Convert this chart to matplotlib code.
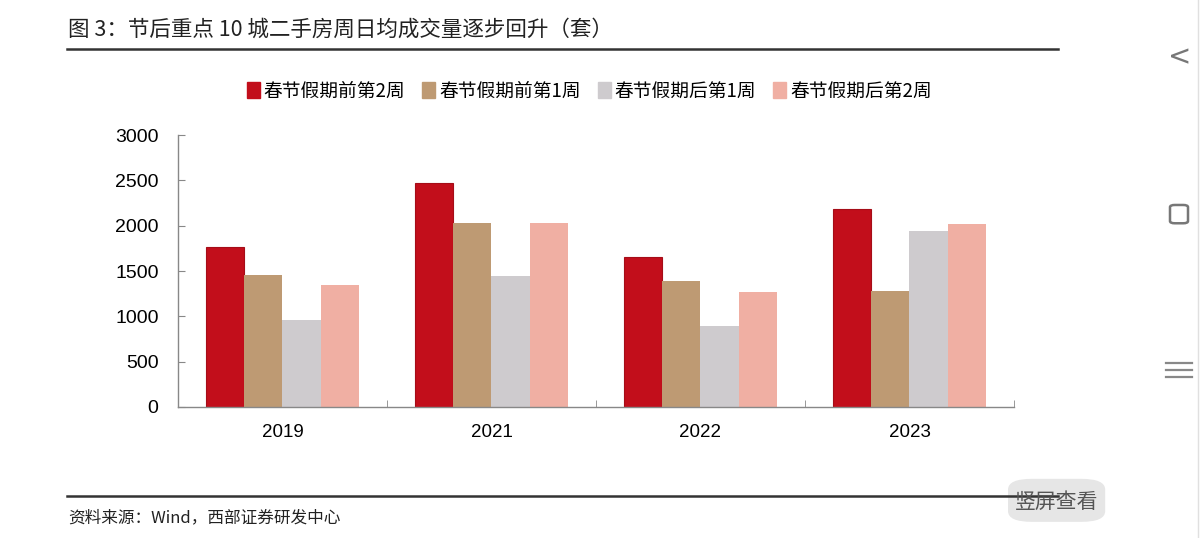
import matplotlib.pyplot as plt
import numpy as np
from matplotlib.patches import FancyBboxPatch, Rectangle
from matplotlib.lines import Line2D

plt.rcParams['font.family'] = ['Liberation Sans', 'Noto Sans CJK SC', 'DejaVu Sans']

# data
years = ['2019', '2021', '2022', '2023']
series_names = ['春节假期前第2周', '春节假期前第1周', '春节假期后第1周', '春节假期后第2周']
pre_2w = [1765, 2470, 1655, 2180]
pre_1w = [1460, 2030, 1385, 1280]
post_1w = [955, 1440, 895, 1945]
post_2w = [1345, 2030, 1270, 2020]
colors = ['#C20E1B', '#BE9A73', '#CECBCE', '#F0AFA3']

cjk = ['Noto Sans CJK SC', 'DejaVu Sans']


def main():
    fig = plt.figure(figsize=(12, 5.38), dpi=100)
    ax = fig.add_axes([0.1483, 0.2435, 0.6967, 0.5055])

    x = np.arange(len(years))
    w = 0.184
    all_vals = [pre_2w, pre_1w, post_1w, post_2w]
    for i, vals in enumerate(all_vals):
        ax.bar(x + (i - 1.5) * w, vals, width=w, color=colors[i],
               edgecolor='#A50D18' if i == 0 else 'none', linewidth=0.8,
               label=series_names[i], zorder=2)

    ax.set_xlim(-0.5, len(years) - 0.5)
    ax.set_ylim(0, 3000)
    ax.set_yticks(np.arange(0, 3001, 500))
    ax.set_xticks(x)
    ax.set_xticklabels(years)
    ax.set_xticks(np.arange(-0.5, len(years), 1), minor=True)
    ax.tick_params(axis='x', which='major', length=0, labelsize=13.5, pad=12)
    ax.tick_params(axis='x', which='minor', direction='in', length=5, color='#888888')
    ax.tick_params(axis='y', direction='in', length=5, color='#888888', labelsize=14, pad=14)
    for s in ['top', 'right']:
        ax.spines[s].set_visible(False)
    for s in ['left', 'bottom']:
        ax.spines[s].set_color('#888888')
        ax.spines[s].set_linewidth(1.0)

    handles = [Rectangle((0, 0), 1, 1, color=c) for c in colors]
    fig.legend(handles, series_names, loc='center', bbox_to_anchor=(0.491, 0.831),
               ncol=4, frameon=False, handlelength=0.7, handleheight=0.9,
               handletextpad=0.2, columnspacing=0.9,
               prop={'family': cjk, 'size': 13.5})

    # title and rules
    fig.text(0.057, 0.945, '图 3：节后重点 10 城二手房周日均成交量逐步回升（套）',
             family=cjk, fontsize=15.5, color='#222222', va='center')
    fig.add_artist(Line2D([0.056, 0.882], [0.909, 0.909], color='#333333', lw=1.8))
    fig.add_artist(Line2D([0.056, 0.882], [0.078, 0.078], color='#333333', lw=1.8))
    fig.text(0.057, 0.037, '资料来源：Wind，西部证券研发中心',
             family=cjk, fontsize=12, color='#222222', va='center')

    # screenshot UI overlay
    btn = FancyBboxPatch((0.84, 0.03), 0.081, 0.08, boxstyle='round,pad=0,rounding_size=0.02',
                         transform=fig.transFigure, facecolor='#E6E6E6', edgecolor='none')
    fig.add_artist(btn)
    fig.text(0.8805, 0.067, '竖屏查看', family=cjk, fontsize=15, color='#555555',
             ha='center', va='center')
    fig.text(0.983, 0.893, '<', fontsize=20, color='#777777', ha='center', va='center',
             family='DejaVu Sans')
    sq = FancyBboxPatch((0.975, 0.585), 0.015, 0.034, boxstyle='round,pad=0,rounding_size=0.004',
                        transform=fig.transFigure, facecolor='none', edgecolor='#777777', lw=1.8)
    fig.add_artist(sq)
    for yy in [0.325, 0.312, 0.299]:
        fig.add_artist(Line2D([0.972, 0.993], [yy, yy], color='#888888', lw=1.6))
    fig.add_artist(Line2D([0.998, 0.998], [0.0, 1.0], color='#E0E0E0', lw=1.0))

    fig.savefig('out.png', dpi=100)


if __name__ == '__main__':
    main()
